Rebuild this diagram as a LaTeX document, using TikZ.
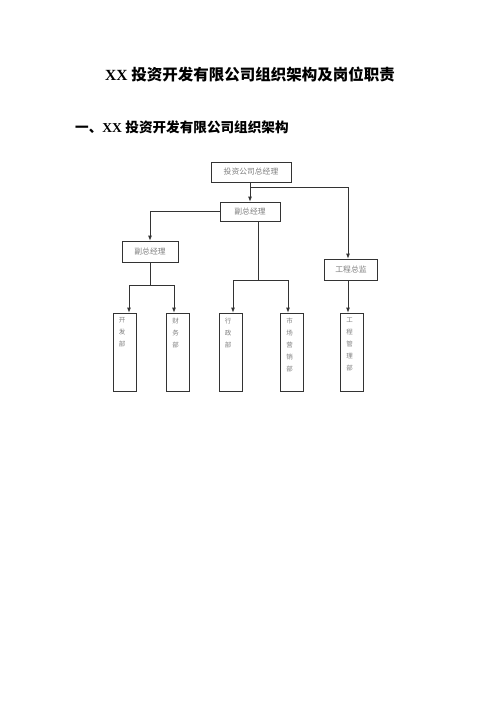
\documentclass[tikz,border=0pt]{standalone}
\usepackage{fontspec}
\setmainfont{Liberation Serif}
\newfontfamily\cjk{Noto Sans CJK SC}
\usetikzlibrary{arrows.meta,calc}
\definecolor{linec}{gray}{0.2}
\definecolor{txtc}{gray}{0.5}
\tikzset{
  orgbox/.style={draw=linec,line width=0.8pt,rectangle,inner sep=0pt,font=\cjk\fontsize{7.8}{9}\selectfont,text=txtc},
  tallbox/.style={draw=linec,line width=0.8pt,rectangle,inner sep=0pt,minimum width=23pt,minimum height=78pt},
  talltext/.style={anchor=north west,inner sep=0pt,align=left,font=\cjk\fontsize{6.5}{12}\selectfont,text=txtc},
  conn/.style={draw=linec,line width=0.8pt},
  arr/.style={conn,-{Latex[length=5pt,width=4pt]}},
  titlef/.style={font=\bfseries\fontsize{15.5}{18}\selectfont},
  headf/.style={font=\bfseries\fontsize{13.6}{16}\selectfont},
}
\begin{document}
\begin{tikzpicture}[x=1pt,y=-1pt]
\useasboundingbox[fill=white] (0,0) rectangle (500,707);
% titles
\node[titlef,inner sep=0pt] (title) at (250,75) {XX {\cjk\bfseries 投资开发有限公司组织架构及岗位职责}};
\node[headf,inner sep=0pt,anchor=west] (head) at (75,127) {{\cjk\bfseries 一、}XX {\cjk\bfseries 投资开发有限公司组织架构}};
% boxes
\node[orgbox,minimum width=80pt,minimum height=20pt] (top) at (251,172) {投资公司总经理};
\node[orgbox,minimum width=60pt,minimum height=19pt] (vp) at (250,211.5) {副总经理};
\node[orgbox,minimum width=56pt,minimum height=21pt] (vpl) at (150,251.5) {副总经理};
\node[orgbox,minimum width=53pt,minimum height=21pt] (eng) at (351,269.5) {工程总监};
\node[tallbox] (b1) at (124.5,352) {};
\node[tallbox] (b2) at (178,352) {};
\node[tallbox] (b3) at (230.5,352) {};
\node[tallbox] (b4) at (292,352) {};
\node[tallbox] (b5) at (352,352) {};
\node[talltext] (t1) at ($(b1.north west)+(6,5)$) {开\\发\\部};
\node[talltext] (t2) at ($(b2.north west)+(6,5)$) {财\\务\\部};
\node[talltext] (t3) at ($(b3.north west)+(6,5)$) {行\\政\\部};
\node[talltext] (t4) at ($(b4.north west)+(6,5)$) {市\\场\\营\\销\\部};
\node[talltext] (t5) at ($(b5.north west)+(6,5)$) {工\\程\\管\\理\\部};
% coordinates
\coordinate (j1) at (250,187);
\coordinate (j1r) at (348,187);
\coordinate (j2) at (150,211.5);
\coordinate (j3t) at (258,221);
\coordinate (j3) at (258,280);
\coordinate (bar2L) at (233,280);
\coordinate (bar2R) at (288,280);
\coordinate (j4) at (150,285);
\coordinate (bar1L) at (129,285);
\coordinate (bar1R) at (174,285);
\coordinate (j5) at (348,280);
% connectors
\draw[arr] (top.south -| j1) -- (vp.north -| j1);
\draw[arr] (j1) -- (j1r) -- (eng.north -| j1r);
\draw[arr] (vp.west) -- (j2) -- (vpl.north);
\draw[conn] (j3t) -- (j3);
\draw[conn] (bar2L) -- (bar2R);
\draw[arr] (bar2L) -- (b3.north -| bar2L);
\draw[arr] (bar2R) -- (b4.north -| bar2R);
\draw[conn] (vpl.south) -- (j4);
\draw[conn] (bar1L) -- (bar1R);
\draw[arr] (bar1L) -- (b1.north -| bar1L);
\draw[arr] (bar1R) -- (b2.north -| bar1R);
\draw[arr] (eng.south -| j5) -- (b5.north -| j5);
\end{tikzpicture}
\end{document}
